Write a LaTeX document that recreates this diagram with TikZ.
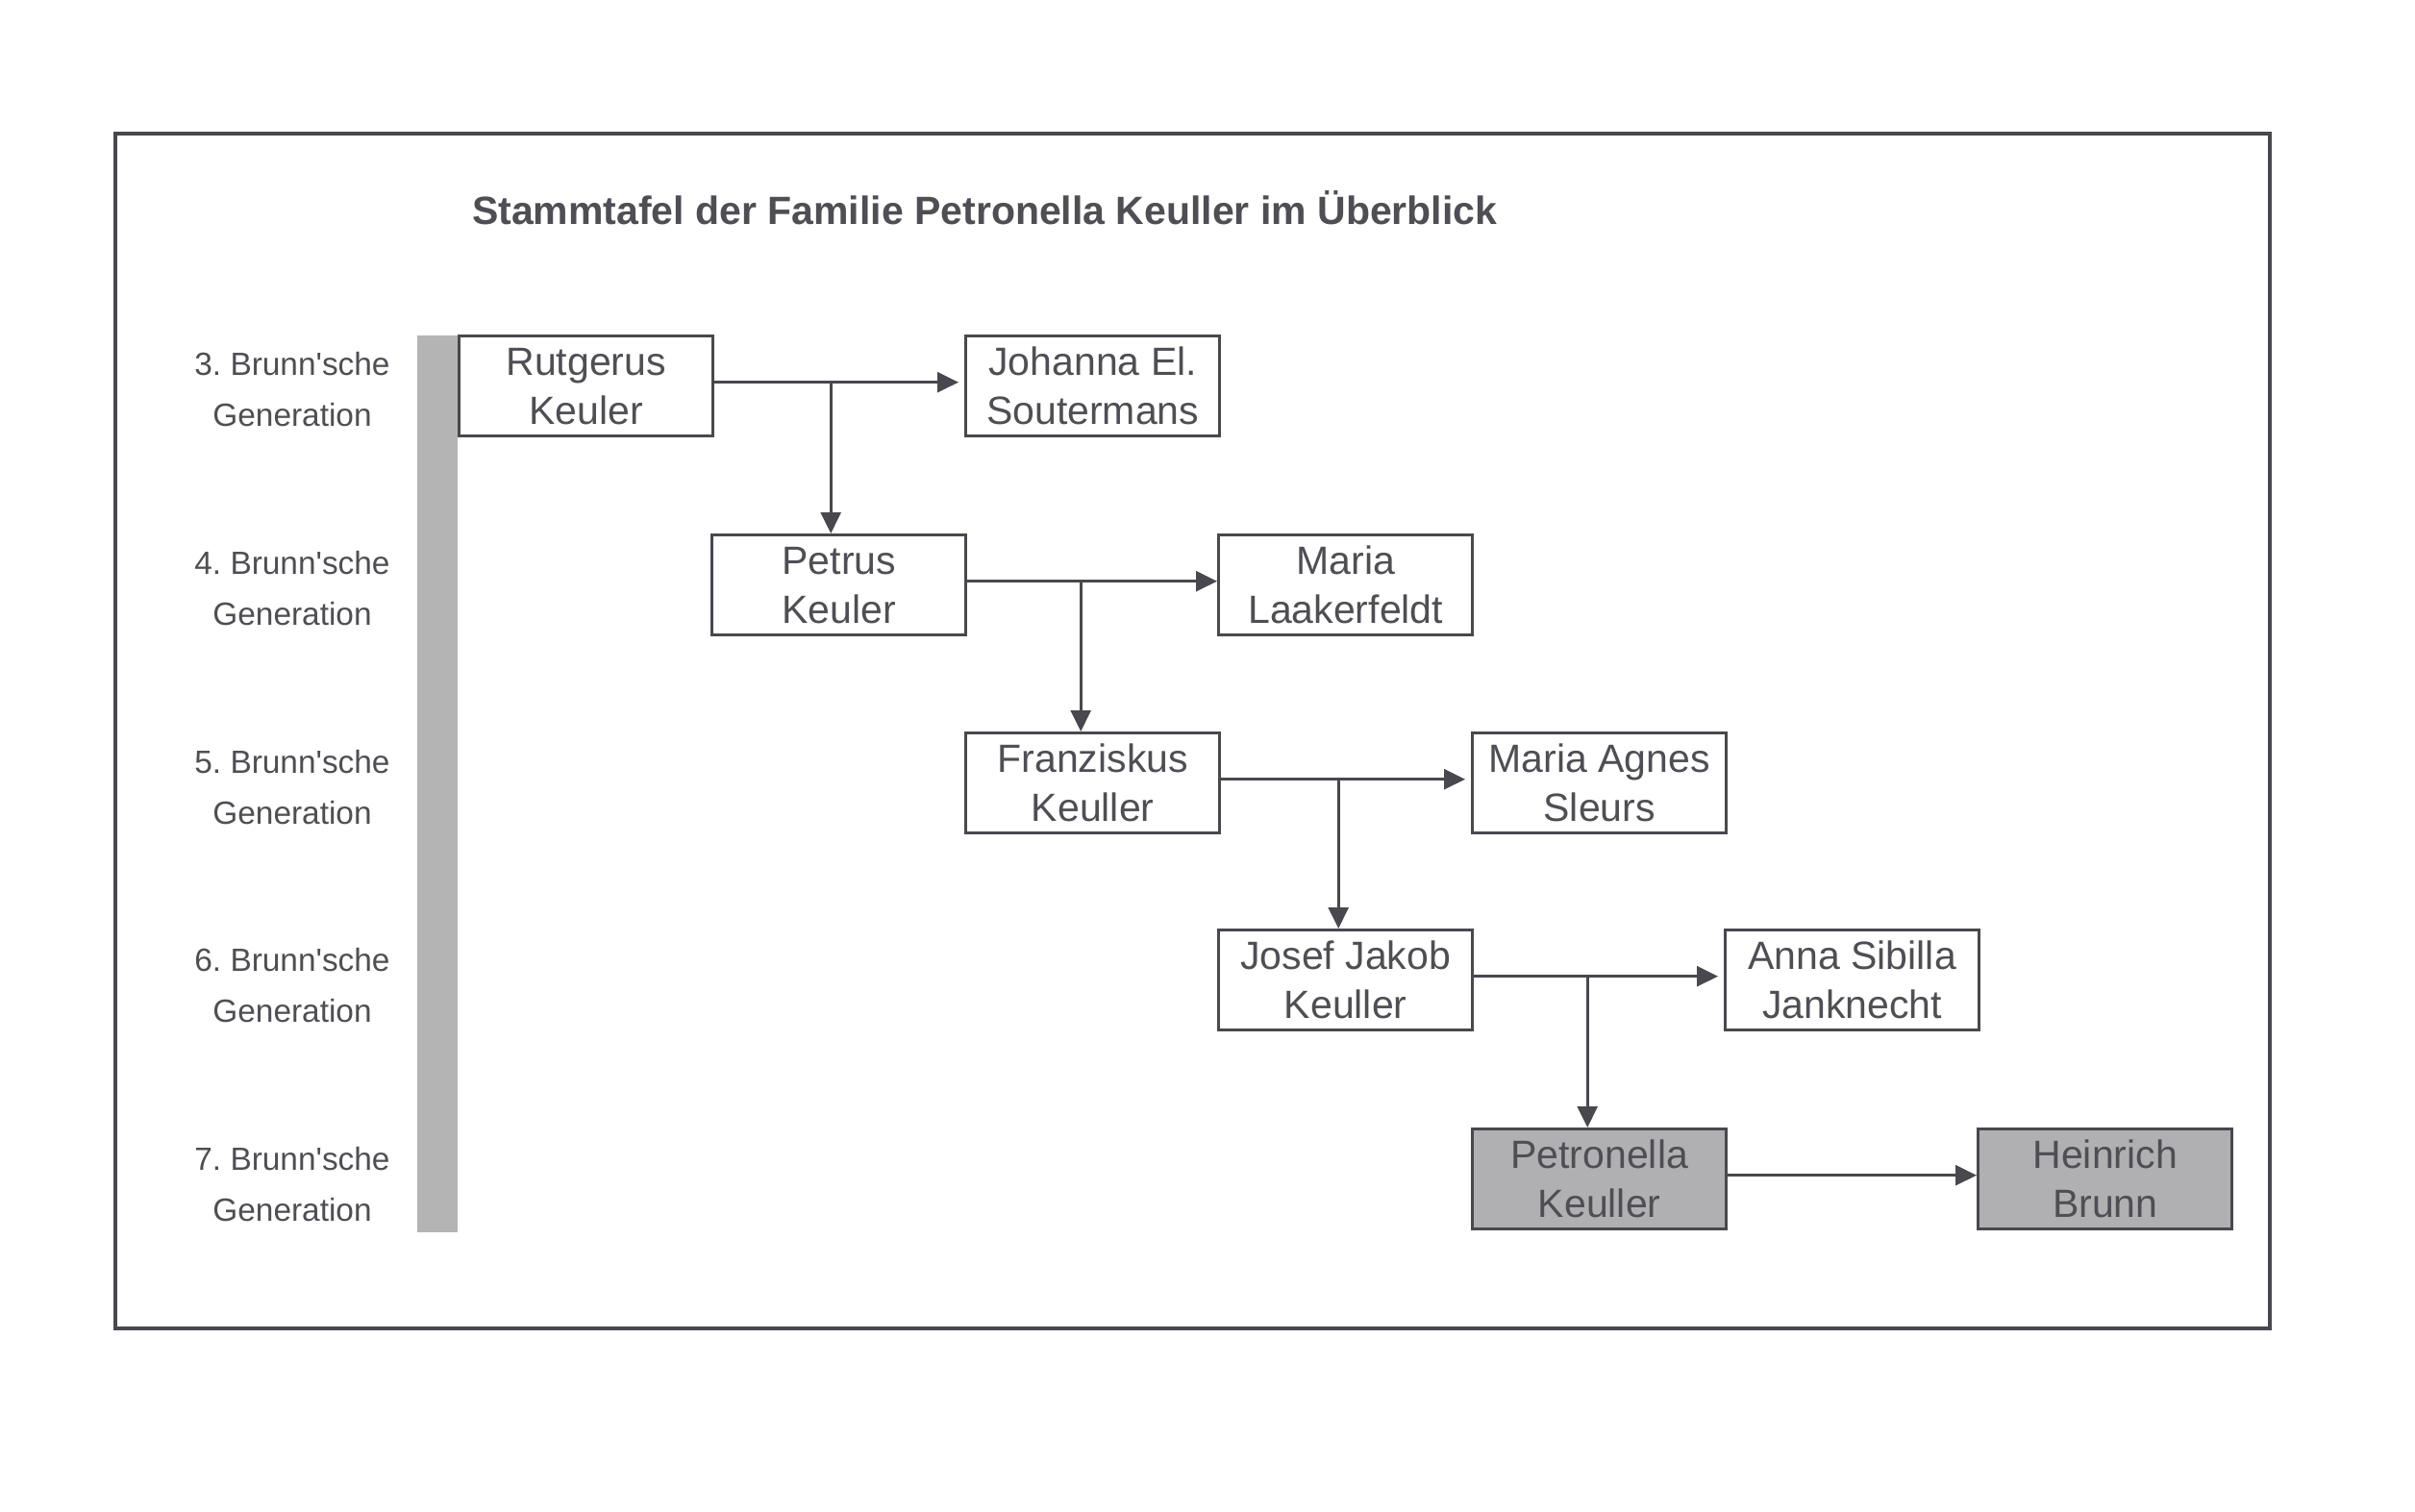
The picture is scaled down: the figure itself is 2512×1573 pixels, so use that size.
\documentclass[tikz,border=0pt]{standalone}
\usepackage{fontspec}
\setmainfont{Liberation Sans}[Ligatures=TeXOff]
\usetikzlibrary{arrows.meta,calc}
\frenchspacing
\definecolor{ink}{RGB}{72,72,78}
\definecolor{txt}{RGB}{78,78,84}
\definecolor{shade}{RGB}{176,176,178}
\definecolor{barfill}{RGB}{180,180,180}
\tikzset{
  person/.style={draw=ink, line width=1.7pt, minimum width=132pt, minimum height=52pt,
    anchor=north west, align=center, inner sep=0pt, text=txt,
    font=\fontsize{20.5}{25.5}\selectfont},
  target/.style={person, fill=shade},
  conn/.style={draw=ink, line width=1.3pt, -{Triangle[length=11pt,width=10.5pt]}},
  genlabel/.style={align=center, text=txt, font=\fontsize{16.7}{26.5}\selectfont},
}
\begin{document}
\begin{tikzpicture}[x=0.5pt,y=-0.5pt]
\useasboundingbox (0,0) rectangle (2512,1573);
\draw[ink, line width=2pt] (120,139) rectangle (2361,1382);
\node[anchor=west, text=txt, font=\bfseries\fontsize{20.5}{24}\selectfont] (title) at (484,216) {Stammtafel der Familie Petronella Keuller im Überblick};
\fill[barfill] (434,349) rectangle (476,1282);
% generation labels
\node[genlabel] (g3) at (304,405) {3. Brunn'sche\\Generation};
\node[genlabel] (g4) at (304,612) {4. Brunn'sche\\Generation};
\node[genlabel] (g5) at (304,819) {5. Brunn'sche\\Generation};
\node[genlabel] (g6) at (304,1025) {6. Brunn'sche\\Generation};
\node[genlabel] (g7) at (304,1232) {7. Brunn'sche\\Generation};
% persons
\node[person] (rut) at (476,348) {Rutgerus\\Keuler};
\node[person] (joh) at (1003,348) {Johanna El.\\Soutermans};
\node[person] (pet) at (739,555) {Petrus\\Keuler};
\node[person] (mla) at (1266,555) {Maria\\Laakerfeldt};
\node[person] (fra) at (1003,761) {Franziskus\\Keuller};
\node[person] (mas) at (1530,761) {Maria Agnes\\Sleurs};
\node[person] (jos) at (1266,966) {Josef Jakob\\Keuller};
\node[person] (ann) at (1793,966) {Anna Sibilla\\Janknecht};
\node[target] (ptr) at (1530,1173) {Petronella\\Keuller};
\node[target] (hei) at (2056,1173) {Heinrich\\Brunn};
% connectors
\draw[conn] ([yshift=2pt]rut.east) -- ([yshift=2pt,xshift=-3pt]joh.west);
\draw[conn] ([yshift=2pt]pet.east) -- ([yshift=2pt]mla.west);
\draw[conn] ([yshift=2pt]fra.east) -- ([yshift=2pt,xshift=-3pt]mas.west);
\draw[conn] ([yshift=2pt]jos.east) -- ([yshift=2pt,xshift=-3pt]ann.west);
\draw[conn] ([yshift=2pt]ptr.east) -- ([yshift=2pt]hei.west);
\coordinate (m1) at ($([yshift=2pt]rut.east)!0.5!([yshift=2pt]joh.west)+(-9,0)$);
\coordinate (m2) at ($([yshift=2pt]pet.east)!0.5!([yshift=2pt]mla.west)+(-12,0)$);
\coordinate (m3) at ($([yshift=2pt]fra.east)!0.5!([yshift=2pt]mas.west)+(-8,0)$);
\coordinate (m4) at ($([yshift=2pt]jos.east)!0.5!([yshift=2pt]ann.west)+(-12,0)$);
\draw[conn] (m1) -- (m1 |- pet.north);
\draw[conn] (m2) -- (m2 |- fra.north);
\draw[conn] (m3) -- (m3 |- jos.north);
\draw[conn] (m4) -- (m4 |- ptr.north);
\end{tikzpicture}
\end{document}
